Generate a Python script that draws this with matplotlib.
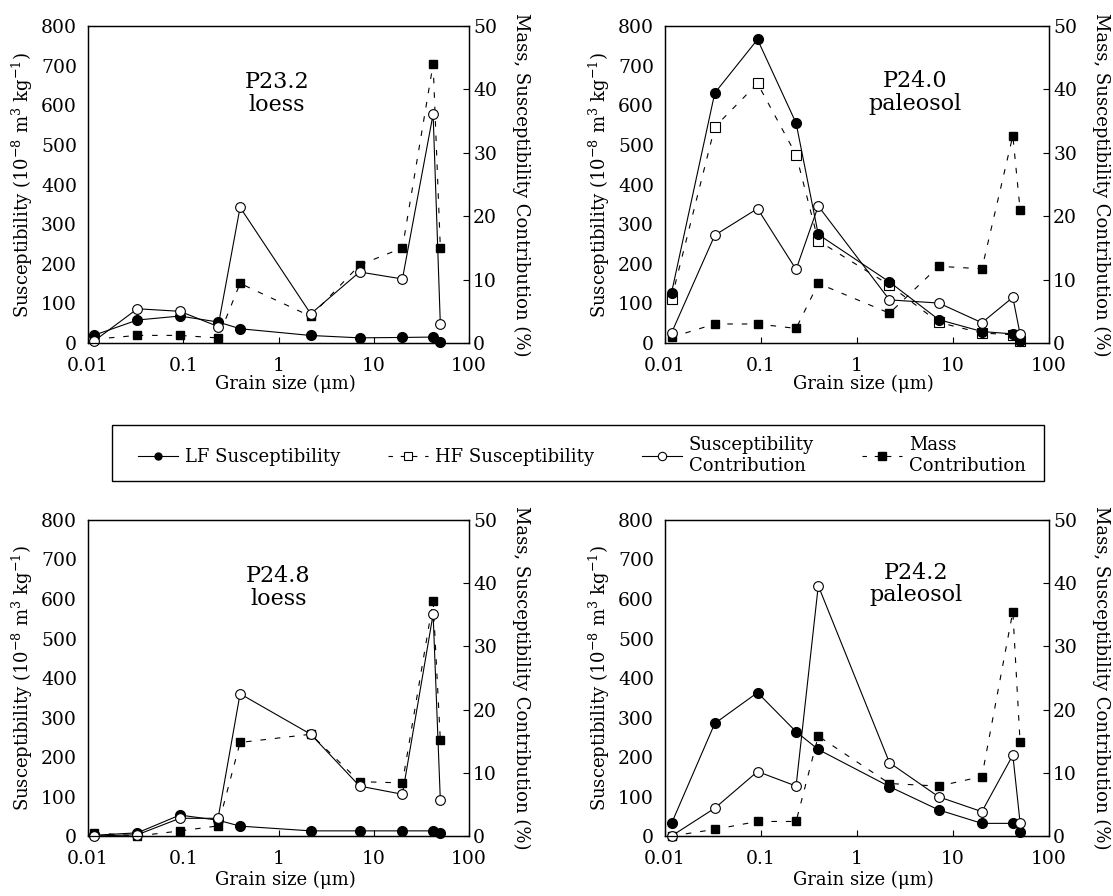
import matplotlib
matplotlib.use("Agg")
import matplotlib.pyplot as plt
from matplotlib.lines import Line2D
from matplotlib.patches import Rectangle

plt.rcParams['font.family'] = 'DejaVu Serif'
plt.rcParams['mathtext.fontset'] = 'dejavuserif'

# grain size classes (µm), shared by all samples
grain_size = [0.0117, 0.033, 0.092, 0.232, 0.395, 2.18, 7.1, 20, 42, 50]

sample_names = ["P23.2\nloess", "P24.0\npaleosol", "P24.8\nloess", "P24.2\npaleosol"]

# low-frequency susceptibility (10^-8 m3/kg)
lf_p232 = [20, 58, 68, 53, 36, 19, 13, 14, 15, 2.5]
lf_p240 = [127, 631, 766, 555, 274, 154, 59, 29, 23, 5]
lf_p248 = [2, 8, 53, 40, 25, 13, 13, 13, 13, 7]
lf_p242 = [32, 285, 363, 264, 219, 125, 66, 32, 32, 11]

# high-frequency susceptibility, only measured for P24.0
hf_p240 = [112, 545, 655, 475, 258, 146, 52, 25, 21, 4]

# susceptibility contribution (%)
sus_p232 = [0.36, 5.4, 5.0, 2.6, 21.4, 4.6, 11.2, 10.1, 36.1, 3.0]
sus_p240 = [1.6, 17.0, 21.2, 11.6, 21.6, 6.8, 6.3, 3.2, 7.2, 1.4]
sus_p248 = [0.0, 0.2, 2.8, 2.8, 22.5, 16.1, 7.9, 6.6, 35.1, 5.7]
sus_p242 = [0.0, 4.4, 10.2, 7.9, 39.6, 11.6, 6.2, 3.85, 12.8, 2.1]

# mass contribution (%)
mass_p232 = [0.6, 1.2, 1.2, 0.8, 9.4, 4.2, 12.3, 15.0, 44.0, 15.0]
mass_p240 = [0.9, 3.0, 3.0, 2.3, 9.4, 4.7, 12.1, 11.7, 32.7, 21.0]
mass_p248 = [0.5, 0.0, 0.8, 1.6, 14.8, 16.1, 8.6, 8.4, 37.2, 15.2]
mass_p242 = [0.0, 1.05, 2.3, 2.3, 15.8, 8.3, 7.9, 9.4, 35.5, 14.8]

fig = plt.figure(figsize=(11.13, 8.96), dpi=100)

W, H = 1113, 896
panels = [
    # name, lf, hf, sus, mass, (left, top, right, bottom) px, label pos, xtick pad, xlabel y
    (sample_names[0], lf_p232, None, sus_p232, mass_p232, (88, 26, 469, 343), (0.96, 630), 10, -0.13),
    (sample_names[1], lf_p240, hf_p240, sus_p240, mass_p240, (665, 26, 1049, 343), (4.0, 633), 10, -0.13),
    (sample_names[2], lf_p248, None, sus_p248, mass_p248, (88, 520, 469, 836), (1.0, 630), 10, -0.138),
    (sample_names[3], lf_p242, None, sus_p242, mass_p242, (665, 520, 1049, 836), (4.1, 638), 10, -0.138),
]

lw = 0.8
dash = (0, (5, 8))
line_kw = dict(color='black', lw=lw, clip_on=False)

for name, lf, hf, sus, mass, box, lab_xy, xpad, xlab_y in panels:
    l, t, r, b = box
    ax = fig.add_axes([l / W, 1 - b / H, (r - l) / W, (b - t) / H])
    ax2 = ax.twinx()

    ax.plot(grain_size, lf, ls='-', marker='o', ms=7, mfc='black', mec='black', **line_kw)
    if hf is not None:
        ax.plot(grain_size, hf, ls=dash, marker='s', ms=6.5, mfc='white', mec='black',
                mew=0.8, zorder=1.9, **line_kw)
    ax2.plot(grain_size, mass, ls=dash, marker='s', ms=6, mfc='black', mec='black', **line_kw)
    ax2.plot(grain_size, sus, ls='-', marker='o', ms=7, mfc='white', mec='black', mew=0.8,
             **line_kw)

    ax.set_xscale('log')
    ax.set_xlim(0.01, 100)
    ax.set_ylim(0, 800)
    ax2.set_ylim(0, 50)
    ax.set_xticks([0.01, 0.1, 1, 10, 100])
    ax.set_xticklabels(['0.01', '0.1', '1', '10', '100'])
    ax.xaxis.set_minor_locator(plt.NullLocator())
    ax.set_yticks(range(0, 801, 100))
    ax2.set_yticks(range(0, 51, 10))

    ax.tick_params(axis='x', direction='in', length=4.5, width=0.8, labelsize=13.5, pad=xpad)
    ax.tick_params(axis='y', direction='in', length=0, labelsize=13.5, pad=8)
    ax2.tick_params(axis='y', direction='in', length=4.5, width=0.8, labelsize=13.5, pad=3)
    for sp in list(ax.spines.values()) + list(ax2.spines.values()):
        sp.set_linewidth(0.9)

    ax.text(-0.171, 0.5, 'Susceptibility (10$^{-8}$ m$^{3}$ kg$^{-1}$)', transform=ax.transAxes,
            rotation=90, ha='center', va='center', fontsize=13)
    ax2.text(1.136, 0.5, 'Mass, Susceptibility Contribution (%)', transform=ax.transAxes,
             rotation=270, ha='center', va='center', fontsize=13)
    ax.text(0.517, xlab_y, 'Grain size (\u03bcm)', transform=ax.transAxes,
            ha='center', va='center', fontsize=13)
    ax2.text(lab_xy[0], lab_xy[1] * 50 / 800, name, ha='center', va='center',
             fontsize=16, linespacing=1.05)

handles = [
    Line2D([], [], color='black', lw=lw, marker='o', ms=5, mfc='black', mec='black'),
    Line2D([], [], color='black', lw=lw, ls=(0, (4, 7)), marker='s', ms=6, mfc='white',
           mec='black', mew=0.8),
    Line2D([], [], color='black', lw=lw, marker='o', ms=6, mfc='white', mec='black', mew=0.8),
    Line2D([], [], color='black', lw=lw, ls=(0, (4, 7)), marker='s', ms=6, mfc='black',
           mec='black'),
]
labels = ['LF Susceptibility', 'HF Susceptibility', 'Susceptibility\nContribution',
          'Mass\nContribution']

# legend frame spans the figure width between the two rows
fig.patches.append(Rectangle((112 / W, 1 - 481 / H), 932 / W, 56 / H,
                             transform=fig.transFigure, fill=False,
                             edgecolor='black', lw=1.0))
fig.legend(handles, labels, loc='lower left', ncol=4, mode='expand',
           bbox_to_anchor=(132 / W, 1 - 481 / H, 900 / W, 56 / H),
           fontsize=13, frameon=False,
           handlelength=2.2, handletextpad=0.4, columnspacing=1.5,
           borderaxespad=0, borderpad=0.35, labelspacing=0.2)

fig.savefig('out.png', dpi=100)
